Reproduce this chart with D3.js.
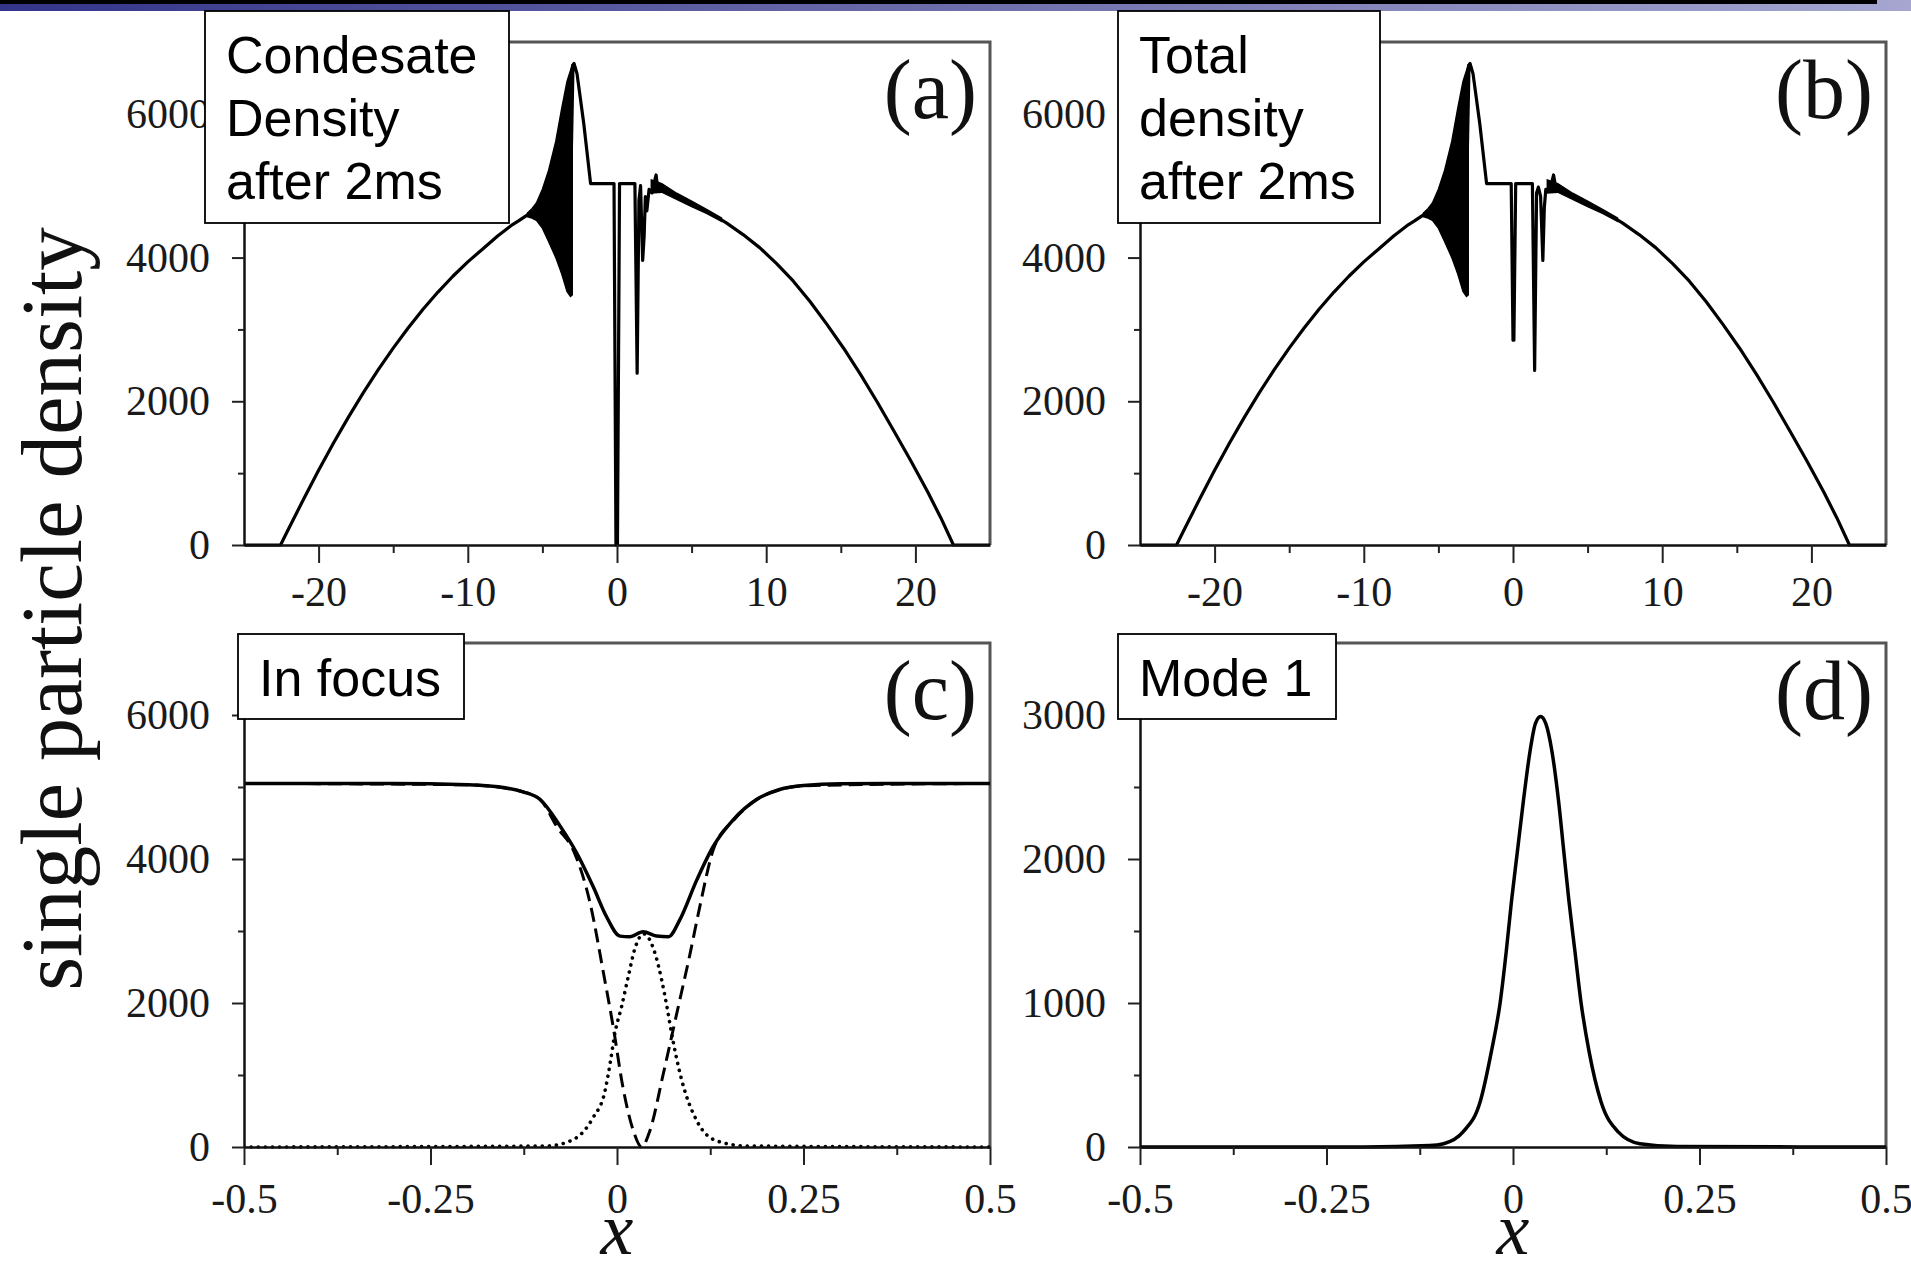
<!DOCTYPE html>
<html>
<head>
<meta charset="utf-8">
<script src="https://cdn.jsdelivr.net/npm/d3@7"></script>
<style>
  body { margin: 0; background: #fff; }
  svg { display: block; }
</style>
</head>
<body>
<div id="chart"></div>
<script>
// values

// smooth wings of the cloud, left and right of the centre (same in (a) and (b))
const wingLeftX  = [-25, -22.55, -22, -21, -20, -19, -18, -17, -16, -15, -14, -13, -12, -11, -10, -9, -8, -7, -6.6, -6.0];
const wingLeftY  = [0, 0, 230, 640, 1040, 1420, 1780, 2120, 2440, 2740, 3020, 3280, 3520, 3740, 3940, 4120, 4300, 4460, 4510, 4595];
const wingRightX = [3.2, 4.0, 5.08, 6.2, 7.33, 8.45, 9.58, 10.7, 11.82, 12.95, 14.07, 15.2, 16.32, 17.44, 18.56, 19.7, 20.82, 21.7, 22.55, 25];
const wingRightY = [4950, 4850, 4740, 4625, 4483, 4320, 4135, 3915, 3672, 3385, 3070, 2735, 2374, 1990, 1586, 1170, 740, 380, 0, 0];

// (a) condensate density, centre part (spike, plateau and dips)
const condMidX = [-5.0, -4.0, -3.1, -2.95, -2.88, -2.68, -2.23, -1.77, -0.2, -0.07, 0.03, 0.17, 1.2, 1.35, 1.47, 1.58,
  1.72, 1.82, 1.9, 2.0, 2.15, 2.35, 2.5, 2.62, 2.72, 2.85];
const condMidY = [4680, 4800, 5050, 6680, 6700, 6560, 5870, 5030, 5030, 0, 0, 5030, 5030, 2390, 4800, 5000,
  3960, 4300, 4850, 4650, 4950, 4900, 5050, 5150, 4980, 4990];

// (b) total density, centre part
const totMidX = [-5.0, -4.0, -3.1, -2.95, -2.88, -2.68, -2.23, -1.77, -0.12, 0.0, 0.06, 0.18, 1.3, 1.45, 1.58, 1.7,
  1.85, 2.0, 2.1, 2.2, 2.4, 2.6, 2.72, 2.85];
const totMidY = [4680, 4800, 5050, 6680, 6700, 6560, 5870, 5030, 5030, 2850, 2850, 5030, 5030, 2430, 4900, 4980,
  4850, 3960, 4700, 4950, 4950, 5050, 5150, 4990];

// dense oscillation left of the spike (upper / lower envelope), same in (a) and (b)
const oscX  = [-6.0, -5.7, -5.4, -5.0, -4.6, -4.1, -3.7, -3.35, -3.12, -3.0];
const oscHi = [4620, 4680, 4760, 4950, 5200, 5620, 6080, 6450, 6600, 6690];
const oscLo = [4570, 4550, 4520, 4410, 4230, 4000, 3770, 3530, 3460, 3480];

// thin noise band right of the dips
const noiseX  = [2.3, 3.0, 4.0, 5.0, 6.0, 7.0];
const noiseHi = [5080, 5030, 4895, 4785, 4670, 4550];
const noiseLo = [4900, 4910, 4810, 4710, 4615, 4505];

// (c) in focus: total (solid), dark soliton part (dashed), mode 1 (dotted)
const focX = [-0.5, -0.3, -0.2, -0.15, -0.125, -0.103, -0.076, -0.054, -0.032, -0.014, 0.004, 0.017, 0.035, 0.053, 0.069,
  0.084, 0.107, 0.129, 0.156, 0.187, 0.218, 0.25, 0.3, 0.5];
const focY = [5050, 5050, 5030, 4990, 4930, 4826, 4453, 4083, 3617, 3198, 2929, 2920, 2990, 2929, 2920,
  3152, 3710, 4175, 4547, 4826, 4965, 5020, 5045, 5050];
const dashX = [-0.5, -0.2, -0.125, -0.103, -0.08, -0.058, -0.036, -0.018, -0.005, 0.008, 0.022, 0.033, 0.044, 0.062, 0.080,
  0.098, 0.111, 0.129, 0.156, 0.187, 0.218, 0.25, 0.5];
const dashY = [5050, 5030, 4930, 4826, 4440, 4110, 3385, 2409, 1664, 827, 223, 0, 223, 1014, 1850,
  2688, 3338, 4128, 4535, 4822, 4962, 5018, 5050];
const dotX = [-0.5, -0.094, -0.058, -0.032, -0.016, -0.009, -0.003, 0.006, 0.015, 0.024, 0.036, 0.051, 0.060, 0.067,
  0.075, 0.087, 0.107, 0.134, 0.174, 0.5];
const dotY = [0, 14, 107, 409, 781, 1176, 1571, 1943, 2361, 2757, 2960, 2688, 2315, 1943,
  1478, 920, 363, 84, 14, 0];

// (d) mode 1
const modeX = [-0.5, -0.2, -0.112, -0.093, -0.067, -0.044, -0.029, -0.017, -0.009, -0.002, 0.006, 0.014, 0.023, 0.030,
  0.037, 0.044, 0.052, 0.061, 0.068, 0.075, 0.083, 0.091, 0.102, 0.118, 0.141, 0.170, 0.22, 0.5];
const modeY = [0, 0, 10, 23, 105, 314, 662, 1011, 1360, 1708, 2057, 2406, 2754, 2940,
  2990, 2940, 2754, 2406, 2057, 1708, 1360, 1011, 662, 314, 105, 23, 3, 0];

// ticks
const xTicksWide = [-20, -10, 0, 10, 20];
const xMinorWide = [-15, -5, 5, 15];
const xTicksNarrow = [-0.5, -0.25, 0, 0.25, 0.5];
const xMinorNarrow = [-0.375, -0.125, 0.125, 0.375];
const yTicksBig = [0, 2000, 4000, 6000];
const yMinorBig = [1000, 3000, 5000];
const yTicksMode = [0, 1000, 2000, 3000];
const yMinorMode = [500, 1500, 2500];

const W = 1911, H = 1270;
const serif = "'Liberation Serif', 'Times New Roman', serif";
const sans = "'Liberation Sans', Arial, sans-serif";

const svg = d3.select("#chart").append("svg")
    .attr("width", W)
    .attr("height", H);

svg.append("rect").attr("width", W).attr("height", H).attr("fill", "#fff");

// slide header strip
const defs = svg.append("defs");
const grad = defs.append("linearGradient").attr("id", "hdr");
grad.append("stop").attr("offset", "0%").attr("stop-color", "#34348a");
grad.append("stop").attr("offset", "50%").attr("stop-color", "#6d6dab");
grad.append("stop").attr("offset", "100%").attr("stop-color", "#a6a6d1");
svg.append("rect").attr("x", 0).attr("y", 0).attr("width", W).attr("height", 11).attr("fill", "url(#hdr)");
svg.append("rect").attr("x", 0).attr("y", 0).attr("width", 1877).attr("height", 4).attr("fill", "#000");

const pts = (xs, ys) => xs.map((v, i) => [v, ys[i]]);
const band = (xs, hi, lo) => xs.map((v, i) => [v, hi[i], lo[i]]);
const wholeCloud = (midX, midY) =>
    pts(wingLeftX, wingLeftY).concat(pts(midX, midY), pts(wingRightX, wingRightY));

function panel(p) {
    const x = d3.scaleLinear().domain(p.xDomain).range([p.left, p.right]);
    const y = d3.scaleLinear().domain(p.yDomain).range([p.bottom, p.top]);
    const g = svg.append("g");

    // frame (top + right)
    g.append("path")
        .attr("d", `M${p.left},${p.top}H${p.right}V${p.bottom}`)
        .attr("fill", "none")
        .attr("stroke", "#555")
        .attr("stroke-width", 3);

    defs.append("clipPath").attr("id", "clip-" + p.id)
        .append("rect")
        .attr("x", p.left).attr("y", p.top - 2)
        .attr("width", p.right - p.left).attr("height", p.bottom - p.top + 4);

    const plot = g.append("g").attr("clip-path", `url(#clip-${p.id})`);

    (p.bands || []).forEach(b => {
        plot.append("path")
            .datum(b)
            .attr("fill", "#000")
            .attr("stroke", "#000")
            .attr("stroke-width", 1.5)
            .attr("d", d3.area().x(d => x(d[0])).y0(d => y(d[2])).y1(d => y(d[1])));
    });

    p.series.forEach(s => {
        plot.append("path")
            .datum(s.data)
            .attr("fill", "none")
            .attr("stroke", "#000")
            .attr("stroke-width", s.width || 3.2)
            .attr("stroke-dasharray", s.dash || null)
            .attr("stroke-linecap", s.cap || "butt")
            .attr("stroke-linejoin", "round")
            .attr("d", d3.line().curve(s.curve || d3.curveLinear).x(d => x(d[0])).y(d => y(d[1])));
    });

    // axes
    g.append("g")
        .attr("transform", `translate(0,${p.bottom})`)
        .call(d3.axisBottom(x).tickValues(p.xTicks).tickSize(18).tickSizeOuter(0)
            .tickPadding(p.xPad).tickFormat(d => String(d)));
    g.append("g")
        .attr("transform", `translate(0,${p.bottom})`)
        .call(d3.axisBottom(x).tickValues(p.xMinor).tickSize(8).tickFormat(""))
        .call(a => a.select(".domain").remove());

    g.append("g")
        .attr("transform", `translate(${p.left},0)`)
        .call(d3.axisLeft(y).tickValues(p.yTicks).tickSize(12).tickSizeOuter(0)
            .tickPadding(22).tickFormat(d => String(d)));
    g.append("g")
        .attr("transform", `translate(${p.left},0)`)
        .call(d3.axisLeft(y).tickValues(p.yMinor).tickSize(6).tickFormat(""))
        .call(a => a.select(".domain").remove());

    g.selectAll(".domain").attr("stroke", "#111").attr("stroke-width", 2.5);
    g.selectAll(".tick line").attr("stroke", "#222").attr("stroke-width", 2);
    g.selectAll(".tick text")
        .attr("font-family", serif)
        .attr("font-size", 42)
        .attr("fill", "#1a1a1a");

    // panel letter
    g.append("text")
        .attr("x", p.right - 13)
        .attr("y", p.top + 76)
        .attr("text-anchor", "end")
        .attr("font-family", serif)
        .attr("font-size", 84)
        .attr("fill", "#111")
        .text(p.letter);

    if (p.xTitle) {
        g.append("text")
            .attr("x", x(0))
            .attr("y", 1254)
            .attr("text-anchor", "middle")
            .attr("font-family", serif)
            .attr("font-style", "italic")
            .attr("font-size", 74)
            .attr("fill", "#111")
            .text("x");
    }
}

panel({
    id: "a", letter: "(a)", left: 244, right: 990, top: 42, bottom: 545,
    xDomain: [-25, 25], yDomain: [0, 7000],
    xTicks: xTicksWide, xMinor: xMinorWide, yTicks: yTicksBig, yMinor: yMinorBig, xPad: 13,
    bands: [band(oscX, oscHi, oscLo), band(noiseX, noiseHi, noiseLo)],
    series: [{ data: wholeCloud(condMidX, condMidY) }]
});

panel({
    id: "b", letter: "(b)", left: 1140, right: 1886, top: 42, bottom: 545,
    xDomain: [-25, 25], yDomain: [0, 7000],
    xTicks: xTicksWide, xMinor: xMinorWide, yTicks: yTicksBig, yMinor: yMinorBig, xPad: 13,
    bands: [band(oscX, oscHi, oscLo), band(noiseX, noiseHi, noiseLo)],
    series: [{ data: wholeCloud(totMidX, totMidY) }]
});

panel({
    id: "c", letter: "(c)", left: 244, right: 990, top: 643, bottom: 1147,
    xDomain: [-0.5, 0.5], yDomain: [0, 7000],
    xTicks: xTicksNarrow, xMinor: xMinorNarrow, yTicks: yTicksBig, yMinor: yMinorBig, xPad: 18,
    xTitle: true,
    series: [
        { data: pts(dotX, dotY), dash: "0.1,7", cap: "round", width: 3.6, curve: d3.curveMonotoneX },
        { data: pts(dashX, dashY), dash: "14,7", width: 3, curve: d3.curveMonotoneX },
        { data: pts(focX, focY), width: 3.5, curve: d3.curveMonotoneX }
    ]
});

panel({
    id: "d", letter: "(d)", left: 1140, right: 1886, top: 643, bottom: 1147,
    xDomain: [-0.5, 0.5], yDomain: [0, 3500],
    xTicks: xTicksNarrow, xMinor: xMinorNarrow, yTicks: yTicksMode, yMinor: yMinorMode, xPad: 18,
    xTitle: true,
    series: [{ data: pts(modeX, modeY), width: 3.5, curve: d3.curveMonotoneX }]
});

// shared y title
svg.append("text")
    .attr("transform", "translate(81,609) rotate(-90)")
    .attr("text-anchor", "middle")
    .attr("font-family", serif)
    .attr("font-size", 87)
    .attr("fill", "#111")
    .text("single particle density");

// annotation boxes
const boxes = [
    { x: 205, y: 11, w: 304, h: 212, lines: ["Condesate", "Density", "after 2ms"] },
    { x: 1118, y: 11, w: 262, h: 212, lines: ["Total", "density", "after 2ms"] },
    { x: 238, y: 634, w: 226, h: 85, lines: ["In focus"] },
    { x: 1118, y: 634, w: 218, h: 85, lines: ["Mode 1"] }
];
boxes.forEach(b => {
    svg.append("rect")
        .attr("x", b.x).attr("y", b.y).attr("width", b.w).attr("height", b.h)
        .attr("fill", "#fff").attr("stroke", "#000").attr("stroke-width", 1.8);
    const t = svg.append("text")
        .attr("font-family", sans)
        .attr("font-size", 52)
        .attr("fill", "#000");
    b.lines.forEach((s, i) => {
        t.append("tspan")
            .attr("x", b.x + 21)
            .attr("y", b.y + 62 + i * 63)
            .text(s);
    });
});
</script>
</body>
</html>
